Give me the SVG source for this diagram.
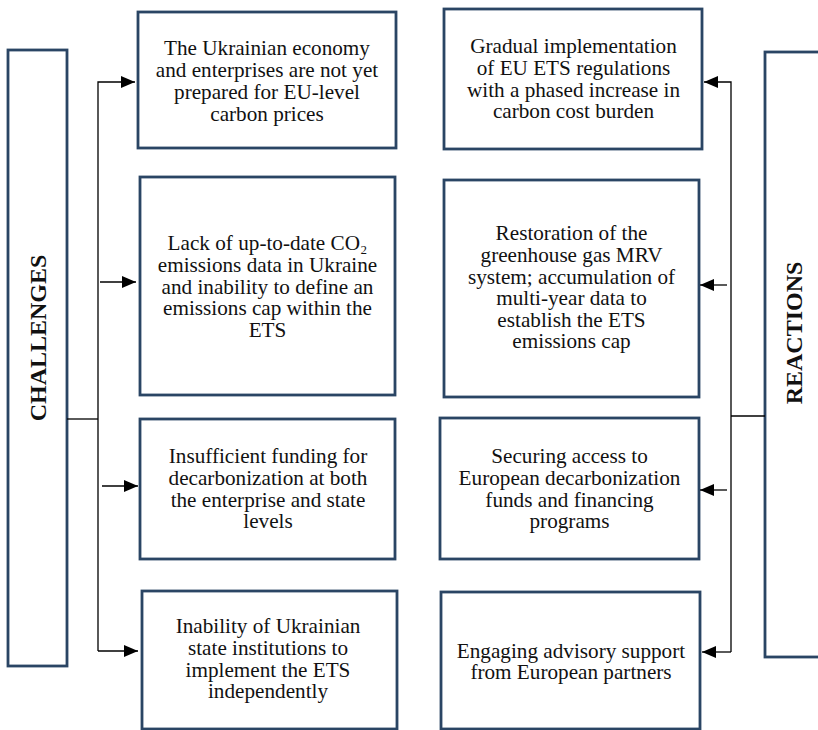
<svg xmlns="http://www.w3.org/2000/svg" width="818" height="730" viewBox="0 0 818 730">
<style>
.box{fill:#fff;stroke:#2a4564;stroke-width:2.8}
.t{font-family:'Liberation Serif','DejaVu Serif',serif;font-size:21.2px;font-weight:normal;fill:#111;text-anchor:middle}
.h{font-family:'Liberation Serif','DejaVu Serif',serif;font-size:24px;font-weight:bold;fill:#111;text-anchor:middle}
.c{fill:none;stroke:#000;stroke-width:1.3}
</style>
<defs>
<marker id="ah" markerUnits="userSpaceOnUse" markerWidth="16" markerHeight="12" refX="14" refY="6" orient="auto">
<path d="M0,0 L14,6 L0,12 Z" fill="#000"/>
</marker>
</defs>
<rect width="818" height="730" fill="#fff"/>
<g id="challenges">
<rect class="box" x="8" y="50" width="59" height="616"/>
<text class="h" transform="translate(46,338) rotate(-90)">CHALLENGES</text>
</g>
<g id="reactions">
<rect class="box" x="765" y="52" width="70" height="605"/>
<text class="h" transform="translate(802,333) rotate(-90)">REACTIONS</text>
</g>
<g id="c1">
<rect class="box" x="138" y="12" width="258" height="136"/>
<text class="t"><tspan x="267" y="55">The Ukrainian economy</tspan><tspan x="267" y="77">and enterprises are not yet</tspan><tspan x="267" y="99">prepared for EU-level</tspan><tspan x="267" y="121">carbon prices</tspan></text>
</g>
<g id="c2">
<rect class="box" x="140" y="177" width="255" height="218"/>
<text class="t"><tspan x="267.5" y="250">Lack of up-to-date CO₂</tspan><tspan x="267.5" y="272">emissions data in Ukraine</tspan><tspan x="267.5" y="293.5">and inability to define an</tspan><tspan x="267.5" y="315">emissions cap within the</tspan><tspan x="267.5" y="337">ETS</tspan></text>
</g>
<g id="c3">
<rect class="box" x="140" y="419" width="255" height="140"/>
<text class="t"><tspan x="268" y="463">Insufficient funding for</tspan><tspan x="268" y="485">decarbonization at both</tspan><tspan x="268" y="507">the enterprise and state</tspan><tspan x="268" y="528">levels</tspan></text>
</g>
<g id="c4">
<rect class="box" x="142" y="591" width="255" height="138"/>
<text class="t"><tspan x="268" y="633">Inability of Ukrainian</tspan><tspan x="268" y="655">state institutions to</tspan><tspan x="268" y="677">implement the ETS</tspan><tspan x="268" y="698">independently</tspan></text>
</g>
<g id="r1">
<rect class="box" x="444" y="9" width="258" height="140"/>
<text class="t"><tspan x="573.5" y="53">Gradual implementation</tspan><tspan x="573.5" y="75">of EU ETS regulations</tspan><tspan x="573.5" y="97">with a phased increase in</tspan><tspan x="573.5" y="118">carbon cost burden</tspan></text>
</g>
<g id="r2">
<rect class="box" x="444" y="180" width="255" height="217"/>
<text class="t"><tspan x="571.5" y="240">Restoration of the</tspan><tspan x="571.5" y="262">greenhouse gas MRV</tspan><tspan x="571.5" y="283.5">system; accumulation of</tspan><tspan x="571.5" y="305">multi-year data to</tspan><tspan x="571.5" y="327">establish the ETS</tspan><tspan x="571.5" y="348">emissions cap</tspan></text>
</g>
<g id="r3">
<rect class="box" x="440" y="418" width="259" height="141"/>
<text class="t"><tspan x="569.5" y="463">Securing access to</tspan><tspan x="569.5" y="485">European decarbonization</tspan><tspan x="569.5" y="507">funds and financing</tspan><tspan x="569.5" y="528">programs</tspan></text>
</g>
<g id="r4">
<rect class="box" x="441" y="592" width="259" height="137"/>
<text class="t"><tspan x="571" y="658">Engaging advisory support</tspan><tspan x="571" y="679">from European partners</tspan></text>
</g>
<g id="connectors">
<path class="c" d="M67,419 H98"/>
<path class="c" d="M98,651 V82 H135" marker-end="url(#ah)"/>
<path class="c" d="M100,282 H136" marker-end="url(#ah)"/>
<path class="c" d="M102,486 H138" marker-end="url(#ah)"/>
<path class="c" d="M98,651 H138" marker-end="url(#ah)"/>
<path class="c" d="M765,416 H731"/>
<path class="c" d="M731,652 V82 H704" marker-end="url(#ah)"/>
<path class="c" d="M727,285 H700" marker-end="url(#ah)"/>
<path class="c" d="M727,490 H700" marker-end="url(#ah)"/>
<path class="c" d="M731,652 H702" marker-end="url(#ah)"/>
</g>
</svg>
